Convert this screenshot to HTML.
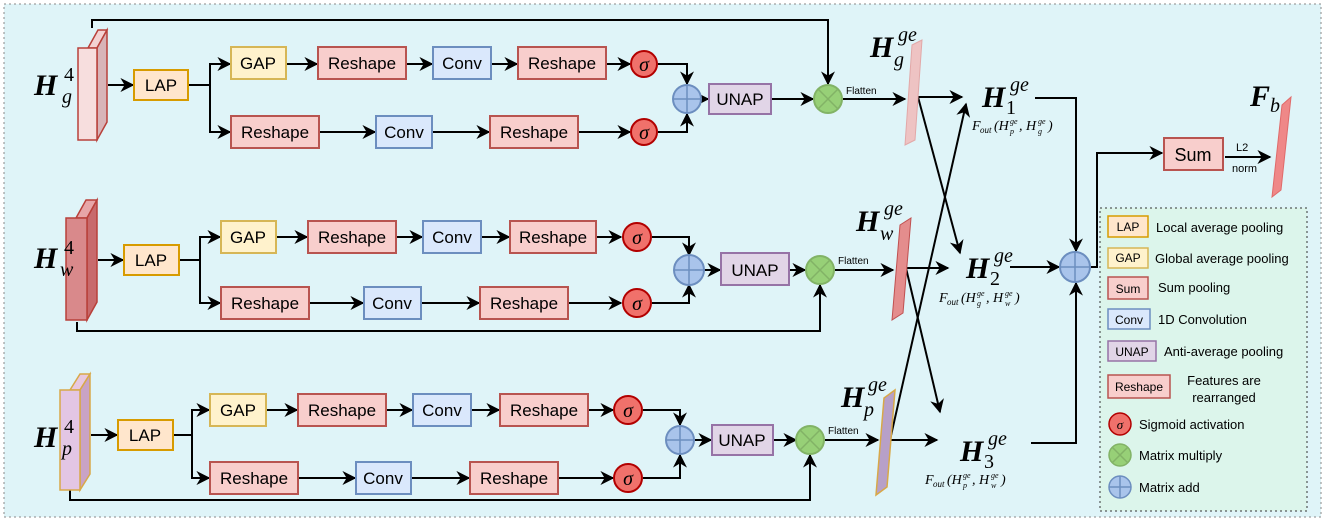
<!DOCTYPE html>
<html><head><meta charset="utf-8"><style>
html,body{margin:0;padding:0;background:#fff;}
svg{display:block;font-family:"Liberation Sans",sans-serif;}
.m{font-family:"Liberation Serif",serif;font-style:italic;}
</style></head><body>
<svg width="1325" height="525" viewBox="0 0 1325 525" xmlns="http://www.w3.org/2000/svg">
<defs>
<marker id="a" viewBox="0 0 10 10" refX="9" refY="5" markerWidth="7" markerHeight="7" orient="auto-start-reverse"><path d="M0,0 L10,5 L0,10 L3,5 z" fill="#000"/></marker>
</defs>
<rect x="4" y="4" width="1317" height="513" fill="#dff4f8" stroke="#888" stroke-dasharray="2,3"/>
<g stroke="#000" stroke-width="2" fill="none">
<polyline points="92,28 92,20 828,20 828,84" marker-end="url(#a)"/>
<line x1="108" y1="85" x2="133" y2="85" marker-end="url(#a)"/>
<polyline points="188,85 210,85 210,64 230,64" marker-end="url(#a)"/>
<polyline points="210,85 210,132 230,132" marker-end="url(#a)"/>
<line x1="286" y1="64" x2="317" y2="64" marker-end="url(#a)"/>
<line x1="406" y1="64" x2="432" y2="64" marker-end="url(#a)"/>
<line x1="491" y1="64" x2="517" y2="64" marker-end="url(#a)"/>
<line x1="606" y1="64" x2="630" y2="64" marker-end="url(#a)"/>
<line x1="319" y1="132" x2="375" y2="132" marker-end="url(#a)"/>
<line x1="432" y1="132" x2="489" y2="132" marker-end="url(#a)"/>
<line x1="578" y1="132" x2="630" y2="132" marker-end="url(#a)"/>
<polyline points="658,64 687,64 687,84" marker-end="url(#a)"/>
<polyline points="658,132 687,132 687,114" marker-end="url(#a)"/>
<line x1="702" y1="99" x2="708" y2="99" marker-end="url(#a)"/>
<line x1="771" y1="99" x2="813" y2="99" marker-end="url(#a)"/>
<line x1="843" y1="99" x2="905" y2="99" marker-end="url(#a)"/>
<line x1="98" y1="260" x2="123" y2="260" marker-end="url(#a)"/>
<polyline points="179,260 200,260 200,237 220,237" marker-end="url(#a)"/>
<polyline points="200,260 200,303 220,303" marker-end="url(#a)"/>
<line x1="276" y1="237" x2="307" y2="237" marker-end="url(#a)"/>
<line x1="396" y1="237" x2="422" y2="237" marker-end="url(#a)"/>
<line x1="481" y1="237" x2="509" y2="237" marker-end="url(#a)"/>
<line x1="596" y1="237" x2="621" y2="237" marker-end="url(#a)"/>
<line x1="309" y1="303" x2="363" y2="303" marker-end="url(#a)"/>
<line x1="421" y1="303" x2="479" y2="303" marker-end="url(#a)"/>
<line x1="568" y1="303" x2="621" y2="303" marker-end="url(#a)"/>
<polyline points="652,237 689,237 689,255" marker-end="url(#a)"/>
<polyline points="652,303 689,303 689,285" marker-end="url(#a)"/>
<line x1="704" y1="270" x2="720" y2="270" marker-end="url(#a)"/>
<line x1="790" y1="270" x2="805" y2="270" marker-end="url(#a)"/>
<polyline points="77,322 77,331 820,331 820,285" marker-end="url(#a)"/>
<line x1="835" y1="270" x2="893" y2="270" marker-end="url(#a)"/>
<line x1="91" y1="435" x2="117" y2="435" marker-end="url(#a)"/>
<polyline points="173,435 192,435 192,410 209,410" marker-end="url(#a)"/>
<polyline points="192,435 192,478 209,478" marker-end="url(#a)"/>
<line x1="266" y1="410" x2="297" y2="410" marker-end="url(#a)"/>
<line x1="386" y1="410" x2="412" y2="410" marker-end="url(#a)"/>
<line x1="471" y1="410" x2="499" y2="410" marker-end="url(#a)"/>
<line x1="588" y1="410" x2="613" y2="410" marker-end="url(#a)"/>
<line x1="298" y1="478" x2="355" y2="478" marker-end="url(#a)"/>
<line x1="411" y1="478" x2="469" y2="478" marker-end="url(#a)"/>
<line x1="558" y1="478" x2="613" y2="478" marker-end="url(#a)"/>
<polyline points="643,410 680,410 680,425" marker-end="url(#a)"/>
<polyline points="643,478 680,478 680,455" marker-end="url(#a)"/>
<line x1="695" y1="440" x2="711" y2="440" marker-end="url(#a)"/>
<line x1="773" y1="440" x2="796" y2="440" marker-end="url(#a)"/>
<polyline points="70,490 70,500 810,500 810,455" marker-end="url(#a)"/>
<line x1="825" y1="440" x2="878" y2="440" marker-end="url(#a)"/>
<line x1="918" y1="97" x2="962" y2="97" marker-end="url(#a)"/>
<line x1="918" y1="97" x2="960" y2="253" marker-end="url(#a)"/>
<line x1="907" y1="268" x2="948" y2="268" marker-end="url(#a)"/>
<line x1="906" y1="268" x2="940" y2="412" marker-end="url(#a)"/>
<line x1="890" y1="440" x2="966" y2="104" marker-end="url(#a)"/>
<line x1="890" y1="440" x2="937" y2="440" marker-end="url(#a)"/>
<polyline points="1035,98 1076,98 1076,251" marker-end="url(#a)"/>
<line x1="1010" y1="267" x2="1059" y2="267" marker-end="url(#a)"/>
<polyline points="1031,443 1076,443 1076,283" marker-end="url(#a)"/>
<polyline points="1091,267 1097,267 1097,153 1162,153" marker-end="url(#a)"/>
<line x1="1225" y1="157" x2="1270" y2="157" marker-end="url(#a)"/>
</g>
<g stroke="#b8403a" stroke-width="1.5">
<polygon points="88,48 98,30 107,30 97,48" fill="#f3d2d2"/>
<polygon points="97,48 107,30 107,122 97,140" fill="#d8b4b8"/>
<rect x="78" y="48" width="19" height="92" fill="#f7dede"/>
<polygon points="76,218 86,200 97,200 87,218" fill="#e7a6a8"/>
<polygon points="87,218 97,200 97,302 87,320" fill="#c86a6c"/>
<rect x="66" y="218" width="21" height="102" fill="#d9898b"/>
</g>
<g stroke="#d8a848" stroke-width="1.5">
<polygon points="70,390 80,374 90,374 80,390" fill="#e8c8e0"/>
<polygon points="80,390 90,374 90,474 80,490" fill="#c9a3c5"/>
<rect x="60" y="390" width="20" height="100" fill="#e3c6e4"/>
</g>
<polygon points="905,145 912,45 922,40 915,140" fill="#eec3c3" stroke="#e2a8a8"/>
<polygon points="892,320 900,225 911,218 903,313" fill="#e48d8d" stroke="#c05050"/>
<polygon points="876,495 884,398 895,390 887,487" fill="#b7a0c8" stroke="#d8a848" stroke-width="1.5"/>
<polygon points="1272,197 1282,105 1291,97 1281,190" fill="#ef8888" stroke="#e06a6a"/>
<g stroke-width="2" font-size="17" text-anchor="middle">
<rect x="134" y="70" width="54" height="30" fill="#ffe6cc" stroke="#d79b00"/><text x="161" y="91">LAP</text>
<rect x="231" y="47" width="55" height="32" fill="#fff2cc" stroke="#d6b656"/><text x="258" y="69">GAP</text>
<rect x="318" y="47" width="88" height="32" fill="#f8cecc" stroke="#b85450"/><text x="362" y="69">Reshape</text>
<rect x="433" y="47" width="58" height="32" fill="#dae8fc" stroke="#6c8ebf"/><text x="462" y="69">Conv</text>
<rect x="518" y="47" width="88" height="32" fill="#f8cecc" stroke="#b85450"/><text x="562" y="69">Reshape</text>
<rect x="231" y="116" width="88" height="32" fill="#f8cecc" stroke="#b85450"/><text x="275" y="138">Reshape</text>
<rect x="376" y="116" width="56" height="32" fill="#dae8fc" stroke="#6c8ebf"/><text x="404" y="138">Conv</text>
<rect x="490" y="116" width="88" height="32" fill="#f8cecc" stroke="#b85450"/><text x="534" y="138">Reshape</text>
<rect x="709" y="84" width="62" height="30" fill="#e1d5e7" stroke="#9673a6"/><text x="740" y="105">UNAP</text>
<rect x="124" y="245" width="55" height="30" fill="#ffe6cc" stroke="#d79b00"/><text x="151" y="266">LAP</text>
<rect x="221" y="221" width="55" height="32" fill="#fff2cc" stroke="#d6b656"/><text x="248" y="243">GAP</text>
<rect x="308" y="221" width="88" height="32" fill="#f8cecc" stroke="#b85450"/><text x="352" y="243">Reshape</text>
<rect x="423" y="221" width="58" height="32" fill="#dae8fc" stroke="#6c8ebf"/><text x="452" y="243">Conv</text>
<rect x="510" y="221" width="86" height="32" fill="#f8cecc" stroke="#b85450"/><text x="553" y="243">Reshape</text>
<rect x="221" y="287" width="88" height="32" fill="#f8cecc" stroke="#b85450"/><text x="265" y="309">Reshape</text>
<rect x="364" y="287" width="57" height="32" fill="#dae8fc" stroke="#6c8ebf"/><text x="392" y="309">Conv</text>
<rect x="480" y="287" width="88" height="32" fill="#f8cecc" stroke="#b85450"/><text x="524" y="309">Reshape</text>
<rect x="721" y="253" width="68" height="32" fill="#e1d5e7" stroke="#9673a6"/><text x="755" y="276">UNAP</text>
<rect x="118" y="420" width="55" height="30" fill="#ffe6cc" stroke="#d79b00"/><text x="145" y="441">LAP</text>
<rect x="210" y="394" width="56" height="32" fill="#fff2cc" stroke="#d6b656"/><text x="238" y="416">GAP</text>
<rect x="298" y="394" width="88" height="32" fill="#f8cecc" stroke="#b85450"/><text x="342" y="416">Reshape</text>
<rect x="413" y="394" width="58" height="32" fill="#dae8fc" stroke="#6c8ebf"/><text x="442" y="416">Conv</text>
<rect x="500" y="394" width="88" height="32" fill="#f8cecc" stroke="#b85450"/><text x="544" y="416">Reshape</text>
<rect x="210" y="462" width="88" height="32" fill="#f8cecc" stroke="#b85450"/><text x="254" y="484">Reshape</text>
<rect x="356" y="462" width="55" height="32" fill="#dae8fc" stroke="#6c8ebf"/><text x="383" y="484">Conv</text>
<rect x="470" y="462" width="88" height="32" fill="#f8cecc" stroke="#b85450"/><text x="514" y="484">Reshape</text>
<rect x="712" y="425" width="61" height="30" fill="#e1d5e7" stroke="#9673a6"/><text x="742" y="446">UNAP</text>
<rect x="1164" y="138" width="59" height="32" fill="#f8cecc" stroke="#b85450"/><text x="1193" y="161" font-size="18">Sum</text>
</g>
<g stroke-width="2">
<g fill="#f0716b" stroke="#b20000">
<circle cx="644" cy="64" r="13"/><circle cx="644" cy="132" r="13"/>
<circle cx="637" cy="237" r="14"/><circle cx="637" cy="303" r="14"/>
<circle cx="628" cy="410" r="14"/><circle cx="628" cy="478" r="14"/>
</g>
<g fill="#a9c4eb" stroke="#6c8ebf">
<circle cx="687" cy="99" r="14"/><circle cx="689" cy="270" r="15"/><circle cx="680" cy="440" r="14"/><circle cx="1075" cy="267" r="15"/>
</g>
<g fill="#97d077" stroke="#82b366">
<circle cx="828" cy="99" r="14"/><circle cx="820" cy="270" r="14"/><circle cx="810" cy="440" r="14"/>
</g>
<g stroke="#6c8ebf" stroke-width="1.5">
<path d="M673,99h28M687,85v28M674,270h30M689,255v30M666,440h28M680,426v28M1060,267h30M1075,252v30"/>
</g>
<g stroke="#82b366" stroke-width="1.5">
<path d="M818,89l20,20M838,89l-20,20M810,260l20,20M830,260l-20,20M800,430l20,20M820,430l-20,20"/>
</g>
</g>
<g class="m" font-size="20" text-anchor="middle" fill="#000">
<text x="644" y="71">σ</text><text x="644" y="139">σ</text>
<text x="637" y="244">σ</text><text x="637" y="310">σ</text>
<text x="628" y="417">σ</text><text x="628" y="485">σ</text>
</g>
<g font-size="10"><text x="846" y="94">Flatten</text><text x="838" y="264">Flatten</text><text x="828" y="434">Flatten</text>
<text x="1236" y="151" font-size="11">L2</text><text x="1232" y="172" font-size="11">norm</text></g>
<g class="m" font-weight="bold" font-size="30">
<text x="34" y="95">H</text><text x="34" y="268">H</text><text x="34" y="447">H</text>
<text x="870" y="57">H</text><text x="856" y="231">H</text><text x="841" y="407">H</text>
<text x="982" y="107">H</text><text x="966" y="278">H</text><text x="960" y="461">H</text>
<text x="1250" y="106">F</text>
</g>
<g class="m" font-size="20">
<text x="64" y="81" font-style="normal">4</text><text x="62" y="103">g</text>
<text x="64" y="254" font-style="normal">4</text><text x="60" y="276">w</text>
<text x="64" y="433" font-style="normal">4</text><text x="62" y="455">p</text>
<text x="898" y="41">ge</text><text x="894" y="66">g</text>
<text x="884" y="215">ge</text><text x="880" y="240">w</text>
<text x="868" y="391">ge</text><text x="864" y="416">p</text>
<text x="1010" y="91">ge</text><text x="1006" y="114" font-style="normal">1</text>
<text x="994" y="262">ge</text><text x="990" y="285" font-style="normal">2</text>
<text x="988" y="445">ge</text><text x="984" y="468" font-style="normal">3</text>
<text x="1270" y="112">b</text>
</g>
<!-- F_out labels -->
<g class="m" font-size="14">
<text x="972" y="130">F</text><text x="980" y="133" font-size="9">out</text><text x="994" y="130">(H</text><text x="1010" y="124" font-size="8">ge</text><text x="1010" y="134" font-size="8">p</text><text x="1019" y="130">, H</text><text x="1038" y="124" font-size="8">ge</text><text x="1038" y="134" font-size="8">g</text><text x="1048" y="130">)</text>
<text x="939" y="302">F</text><text x="947" y="305" font-size="9">out</text><text x="961" y="302">(H</text><text x="977" y="296" font-size="8">ge</text><text x="977" y="306" font-size="8">g</text><text x="986" y="302">, H</text><text x="1005" y="296" font-size="8">ge</text><text x="1005" y="306" font-size="8">w</text><text x="1015" y="302">)</text>
<text x="925" y="484">F</text><text x="933" y="487" font-size="9">out</text><text x="947" y="484">(H</text><text x="963" y="478" font-size="8">ge</text><text x="963" y="488" font-size="8">p</text><text x="972" y="484">, H</text><text x="991" y="478" font-size="8">ge</text><text x="991" y="488" font-size="8">w</text><text x="1001" y="484">)</text>
</g>
<rect x="1100" y="208" width="207" height="303" fill="#dcf5eb" stroke="#333" stroke-dasharray="2,3"/>
<g stroke-width="1.5" font-size="12" text-anchor="middle">
<rect x="1108" y="216" width="40" height="21" fill="#ffe6cc" stroke="#d79b00"/><text x="1128" y="231">LAP</text>
<rect x="1108" y="248" width="40" height="20" fill="#fff2cc" stroke="#d6b656"/><text x="1128" y="262">GAP</text>
<rect x="1108" y="277" width="40" height="22" fill="#f8cecc" stroke="#b85450"/><text x="1128" y="293">Sum</text>
<rect x="1108" y="309" width="42" height="20" fill="#dae8fc" stroke="#6c8ebf"/><text x="1129" y="324">Conv</text>
<rect x="1108" y="341" width="48" height="20" fill="#e1d5e7" stroke="#9673a6"/><text x="1132" y="356">UNAP</text>
<rect x="1108" y="375" width="62" height="23" fill="#f8cecc" stroke="#b85450"/><text x="1139" y="391">Reshape</text>
</g>
<g stroke-width="1.5">
<circle cx="1120" cy="424" r="11" fill="#f0716b" stroke="#b20000"/>
<circle cx="1120" cy="455" r="11" fill="#97d077" stroke="#82b366"/>
<path d="M1112,447l16,16M1128,447l-16,16" stroke="#82b366"/>
<circle cx="1120" cy="487" r="11" fill="#a9c4eb" stroke="#6c8ebf"/>
<path d="M1109,487h22M1120,476v22" stroke="#6c8ebf"/>
</g>
<text x="1120" y="429" class="m" font-size="13" text-anchor="middle">σ</text>
<g font-size="13">
<text x="1156" y="232">Local average pooling</text>
<text x="1155" y="263">Global average pooling</text>
<text x="1158" y="292">Sum pooling</text>
<text x="1158" y="324">1D Convolution</text>
<text x="1164" y="356">Anti-average pooling</text>
<text x="1224" y="385" text-anchor="middle">Features are</text>
<text x="1224" y="402" text-anchor="middle">rearranged</text>
<text x="1139" y="429">Sigmoid activation</text>
<text x="1139" y="460">Matrix multiply</text>
<text x="1139" y="492">Matrix add</text>
</g>
</svg>
</body></html>
